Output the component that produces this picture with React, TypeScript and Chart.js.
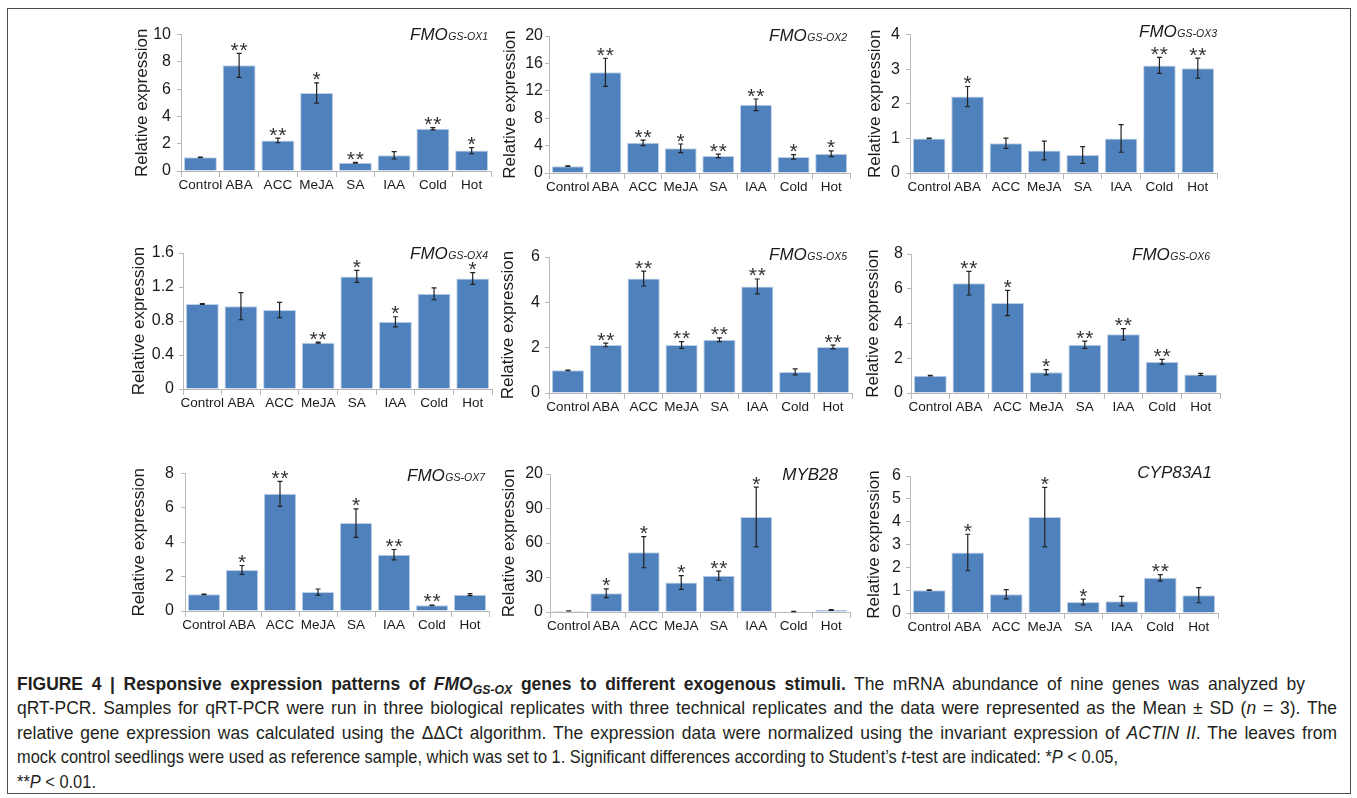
import React, { useEffect, useLayoutEffect, useRef } from "react";
import { Chart, registerables } from "chart.js";
Chart.register(...registerables);

// ---------------- DATA ----------------
const CATEGORIES = ["Control", "ABA", "ACC", "MeJA", "SA", "IAA", "Cold", "Hot"];

const OX1_MEAN = [1.0, 7.75, 2.24, 5.72, 0.6, 1.15, 3.1, 1.5];
const OX1_SD = [0.02, 0.88, 0.17, 0.74, 0.03, 0.27, 0.08, 0.22];
const OX1_SIG = ["", "**", "**", "*", "**", "", "**", "*"];
const OX1_TICKS = [0, 2, 4, 6, 8, 10];

const OX2_MEAN = [1.0, 14.7, 4.4, 3.6, 2.5, 9.95, 2.35, 2.8];
const OX2_SD = [0.05, 2.05, 0.4, 0.63, 0.25, 0.85, 0.33, 0.42];
const OX2_SIG = ["", "**", "**", "*", "**", "**", "*", "*"];
const OX2_TICKS = [0, 4, 8, 12, 16, 20];

const OX3_MEAN = [1.0, 2.21, 0.86, 0.65, 0.52, 1.0, 3.11, 3.03];
const OX3_SD = [0.01, 0.29, 0.15, 0.27, 0.24, 0.4, 0.23, 0.29];
const OX3_SIG = ["", "*", "", "", "", "", "**", "**"];
const OX3_TICKS = [0, 1, 2, 3, 4];

const OX4_MEAN = [1.0, 0.975, 0.93, 0.545, 1.325, 0.79, 1.12, 1.3];
const OX4_SD = [0.005, 0.16, 0.09, 0.006, 0.07, 0.06, 0.07, 0.07];
const OX4_SIG = ["", "", "", "**", "*", "*", "", "*"];
const OX4_TICKS = [0, 0.4, 0.8, 1.2, 1.6];

const OX5_MEAN = [1.0, 2.12, 5.05, 2.12, 2.35, 4.7, 0.93, 2.03];
const OX5_SD = [0.01, 0.08, 0.33, 0.15, 0.08, 0.33, 0.13, 0.08];
const OX5_SIG = ["", "**", "**", "**", "**", "**", "", "**"];
const OX5_TICKS = [0, 2, 4, 6];

const OX6_MEAN = [1.0, 6.32, 5.18, 1.19, 2.78, 3.38, 1.8, 1.07];
const OX6_SD = [0.02, 0.68, 0.73, 0.15, 0.21, 0.33, 0.14, 0.06];
const OX6_SIG = ["", "**", "*", "*", "**", "**", "**", ""];
const OX6_TICKS = [0, 2, 4, 6, 8];

const OX7_MEAN = [0.97, 2.39, 6.82, 1.1, 5.12, 3.28, 0.33, 0.95];
const OX7_SD = [0.02, 0.26, 0.73, 0.18, 0.83, 0.3, 0.02, 0.06];
const OX7_SIG = ["", "*", "**", "", "*", "**", "**", ""];
const OX7_TICKS = [0, 2, 4, 6, 8];

const MYB28_MEAN = [1.0, 16.3, 52.0, 25.7, 31.6, 82.6, 0.5, 1.7];
const MYB28_SD = [0.1, 3.8, 13.5, 6.0, 4.0, 26.0, 0.1, 0.3];
const MYB28_SIG = ["", "*", "*", "*", "**", "*", "", ""];
const MYB28_TICKS = [0, 30, 60, 90, 120];
const MYB28_TICK_LABELS = ["0", "30", "60", "90", "20"];

const CYP_MEAN = [1.0, 2.65, 0.82, 4.2, 0.48, 0.52, 1.54, 0.78];
const CYP_SD = [0.01, 0.8, 0.2, 1.3, 0.13, 0.21, 0.14, 0.33];
const CYP_SIG = ["", "*", "", "*", "*", "", "**", ""];
const CYP_TICKS = [0, 1, 2, 3, 4, 5, 6];

const Y_TITLE = "Relative expression";

// ---------------- STYLE / LAYOUT ----------------
const FONT = '"Liberation Sans", Arial, Helvetica, sans-serif';
const BAR_FILL = "#4f81bd";
const BAR_EDGE = "#c0d1e7";
const AXIS_GRAY = "#b8b8b8";
const TEXT = "#1a1a1a";
const PAD_TOP = 15;
const PAD_RIGHT = 10;
const Y_W = 60;
const X_H = 30;

type Panel = {
  name: string;
  sub: string;
  mean: number[];
  sd: number[];
  sig: string[];
  ticks: number[];
  tickLabels?: string[];
  left: number;
  right: number;
  top: number;
  bottom: number;
  titleRight: number;
  titleBase: number;
  yTitleX: number;
  tickPad: number;
};

const PANELS: Panel[] = [
  { name: "FMO", sub: "GS-OX1", mean: OX1_MEAN, sd: OX1_SD, sig: OX1_SIG, ticks: OX1_TICKS,
    left: 181, right: 491, top: 34, bottom: 171, titleRight: 488, titleBase: 40, yTitleX: 142, tickPad: 6 },
  { name: "FMO", sub: "GS-OX2", mean: OX2_MEAN, sd: OX2_SD, sig: OX2_SIG, ticks: OX2_TICKS,
    left: 549, right: 850, top: 36, bottom: 173, titleRight: 847, titleBase: 41, yTitleX: 510, tickPad: 2 },
  { name: "FMO", sub: "GS-OX3", mean: OX3_MEAN, sd: OX3_SD, sig: OX3_SIG, ticks: OX3_TICKS,
    left: 910, right: 1217, top: 34, bottom: 173, titleRight: 1217, titleBase: 37, yTitleX: 875, tickPad: 6 },
  { name: "FMO", sub: "GS-OX4", mean: OX4_MEAN, sd: OX4_SD, sig: OX4_SIG, ticks: OX4_TICKS,
    left: 183, right: 492, top: 253, bottom: 389, titleRight: 488, titleBase: 259, yTitleX: 139, tickPad: 5 },
  { name: "FMO", sub: "GS-OX5", mean: OX5_MEAN, sd: OX5_SD, sig: OX5_SIG, ticks: OX5_TICKS,
    left: 549, right: 852, top: 257, bottom: 393, titleRight: 847, titleBase: 260, yTitleX: 508, tickPad: 5 },
  { name: "FMO", sub: "GS-OX6", mean: OX6_MEAN, sd: OX6_SD, sig: OX6_SIG, ticks: OX6_TICKS,
    left: 911, right: 1220, top: 254, bottom: 393, titleRight: 1210, titleBase: 260, yTitleX: 873, tickPad: 4 },
  { name: "FMO", sub: "GS-OX7", mean: OX7_MEAN, sd: OX7_SD, sig: OX7_SIG, ticks: OX7_TICKS,
    left: 185, right: 489, top: 472, bottom: 611, titleRight: 485, titleBase: 481, yTitleX: 139, tickPad: 7 },
  { name: "MYB28", sub: "", mean: MYB28_MEAN, sd: MYB28_SD, sig: MYB28_SIG, ticks: MYB28_TICKS, tickLabels: MYB28_TICK_LABELS,
    left: 550, right: 850, top: 474, bottom: 612, titleRight: 838, titleBase: 480, yTitleX: 509, tickPad: 3 },
  { name: "CYP83A1", sub: "", mean: CYP_MEAN, sd: CYP_SD, sig: CYP_SIG, ticks: CYP_TICKS,
    left: 910, right: 1218, top: 476, bottom: 613, titleRight: 1212, titleBase: 478, yTitleX: 874, tickPad: 5 },
];

function BarPanel({ p }: { p: Panel }) {
  const ref = useRef<HTMLCanvasElement>(null);
  const cLeft = p.left - Y_W;
  const cTop = p.top - PAD_TOP;
  const W = p.right - p.left + Y_W + PAD_RIGHT;
  const H = p.bottom - p.top + PAD_TOP + X_H;

  useEffect(() => {
    if (!ref.current) return;
    const overlay = {
      id: "overlay",
      afterDatasetsDraw(chart: any) {
        const ctx = chart.ctx;
        const ys = chart.scales.y;
        const meta = chart.getDatasetMeta(0);
        ctx.save();
        meta.data.forEach((bar: any, i: number) => {
          const v = p.mean[i];
          const e = p.sd[i];
          const x = bar.x;
          const yT = ys.getPixelForValue(v + e);
          const yB = ys.getPixelForValue(Math.max(0, v - e));
          ctx.strokeStyle = "#222";
          ctx.lineWidth = 1.2;
          ctx.beginPath();
          ctx.moveTo(x, yT);
          ctx.lineTo(x, yB);
          ctx.moveTo(x - 2.5, yT);
          ctx.lineTo(x + 2.5, yT);
          ctx.moveTo(x - 2.5, yB);
          ctx.lineTo(x + 2.5, yB);
          ctx.stroke();
          const s = p.sig[i];
          if (s) {
            ctx.fillStyle = "#333";
            ctx.font = `21px ${FONT}`;
            ctx.textAlign = "center";
            ctx.textBaseline = "alphabetic";
            const base = yT + 3.5;
            if (s.length === 2) {
              ctx.fillText("*", x - 4.5, base);
              ctx.fillText("*", x + 4.5, base);
            } else {
              ctx.fillText("*", x, base);
            }
          }
        });
        ctx.restore();
      },
      afterDraw(chart: any) {
        const ctx = chart.ctx;
        ctx.save();
        ctx.fillStyle = TEXT;
        ctx.textBaseline = "alphabetic";
        const base = p.titleBase - cTop;
        let right = p.titleRight - cLeft;
        if (p.sub) {
          ctx.font = `italic 10.5px ${FONT}`;
          const sw = ctx.measureText(p.sub).width;
          ctx.textAlign = "left";
          ctx.fillText(p.sub, right - sw, base);
          right = right - sw - 0.5;
        }
        ctx.font = `italic 17px ${FONT}`;
        ctx.textAlign = "right";
        ctx.fillText(p.name, right, base);
        ctx.restore();
      },
    };

    const chart = new Chart(ref.current, {
      type: "bar",
      data: {
        labels: CATEGORIES,
        datasets: [
          {
            data: p.mean,
            backgroundColor: BAR_FILL,
            borderColor: BAR_EDGE,
            borderWidth: 1,
            barPercentage: 0.85,
            categoryPercentage: 1,
          },
        ],
      },
      options: {
        responsive: false,
        animation: false,
        devicePixelRatio: 1,
        layout: { padding: { left: 0, top: PAD_TOP, right: PAD_RIGHT, bottom: 0 } },
        plugins: { legend: { display: false }, tooltip: { enabled: false }, title: { display: false } },
        scales: {
          x: {
            grid: { display: true, drawOnChartArea: false, drawTicks: true, tickLength: 6, color: AXIS_GRAY, offset: true },
            border: { display: true, color: AXIS_GRAY },
            ticks: {
              color: TEXT,
              font: { family: FONT, size: 13.5 },
              padding: 0,
              autoSkip: false,
              maxRotation: 0,
              minRotation: 0,
            },
            afterFit: (s: any) => {
              s.height = X_H;
            },
          },
          y: {
            min: 0,
            max: p.ticks[p.ticks.length - 1],
            afterBuildTicks: (s: any) => {
              s.ticks = p.ticks.map((v) => ({ value: v }));
            },
            ticks: {
              color: TEXT,
              font: { family: FONT, size: 16 },
              padding: p.tickPad,
              callback: (v: any, i: number) => (p.tickLabels ? p.tickLabels[i] : String(p.ticks[i])),
            },
            grid: { display: true, drawOnChartArea: false, drawTicks: true, tickLength: 4, color: AXIS_GRAY },
            border: { display: true, color: AXIS_GRAY },
            title: {
              display: true,
              text: Y_TITLE,
              color: TEXT,
              font: { family: FONT, size: 17 },
              padding: { top: p.yTitleX - cLeft - 10.2, bottom: 0 },
            },
            afterFit: (s: any) => {
              s.width = Y_W;
            },
          },
        },
      },
      plugins: [overlay],
    } as any);
    return () => chart.destroy();
  }, [p]);

  return (
    <canvas
      ref={ref}
      width={W}
      height={H}
      style={{ position: "absolute", left: cLeft, top: cTop, width: W, height: H, display: "block" }}
    />
  );
}

const LINE_STYLE: any = {
  position: "absolute",
  left: 17,
  display: "inline-block",
  whiteSpace: "nowrap",
  transformOrigin: "0 0",
  fontFamily: FONT,
  fontSize: 18.5,
  lineHeight: "24px",
  color: "#231f20",
};

// target widths of caption lines
const CAPTION_TARGETS = [1288, 1320, 1320, 1101, 101];

function Caption() {
  const r1 = useRef<HTMLDivElement>(null);
  const r2 = useRef<HTMLDivElement>(null);
  const r3 = useRef<HTMLDivElement>(null);
  const r4 = useRef<HTMLDivElement>(null);
  const r5 = useRef<HTMLDivElement>(null);
  useLayoutEffect(() => {
    const els = [r1, r2, r3, r4, r5].map((r) => r.current!);
    els.forEach((el) => {
      el.style.transform = "none";
      el.style.wordSpacing = "0px";
    });
    const k4 = CAPTION_TARGETS[3] / els[3].getBoundingClientRect().width;
    const kc = k4 * 1.065;
    els.forEach((el, i) => {
      const t = CAPTION_TARGETS[i];
      const w = el.getBoundingClientRect().width;
      if (i <= 2) {
        const n = Math.max(1, (el.textContent || "").split(" ").length - 1);
        const extra = (t / kc - w) / n;
        if (extra > 0) {
          el.style.wordSpacing = `${extra}px`;
          el.style.transform = `scaleX(${kc})`;
        } else {
          el.style.transform = `scaleX(${t / w})`;
        }
      } else {
        el.style.transform = `scaleX(${k4})`;
      }
    });
  }, []);
  return (
    <>
      <div ref={r1} style={{ ...LINE_STYLE, top: 672 }}>
        <b>
          FIGURE 4 | Responsive expression patterns of <i>FMO</i>
          <i style={{ fontSize: 13, verticalAlign: "-4px" }}>GS-OX</i> genes to different exogenous stimuli.
        </b>{" "}
        The mRNA abundance of nine genes was analyzed by
      </div>
      <div ref={r2} style={{ ...LINE_STYLE, top: 696 }}>
        qRT-PCR. Samples for qRT-PCR were run in three biological replicates with three technical replicates and the data
        were represented as the Mean ± SD (<i>n</i> = 3). The
      </div>
      <div ref={r3} style={{ ...LINE_STYLE, top: 721 }}>
        relative gene expression was calculated using the ΔΔCt algorithm. The expression data were normalized using the
        invariant expression of <i>ACTIN II</i>. The leaves from
      </div>
      <div ref={r4} style={{ ...LINE_STYLE, top: 745 }}>
        mock control seedlings were used as reference sample, which was set to 1. Significant differences according to
        Student’s <i>t</i>-test are indicated: *<i>P</i> &lt; 0.05,
      </div>
      <div ref={r5} style={{ ...LINE_STYLE, top: 770 }}>
        **<i>P</i> &lt; 0.01.
      </div>
    </>
  );
}

export default function App() {
  return (
    <div
      style={{
        position: "absolute",
        left: 0,
        top: 0,
        width: 1357,
        height: 798,
        background: "#fff",
        overflow: "hidden",
      }}
    >
      <div
        style={{
          position: "absolute",
          left: 7,
          top: 8,
          width: 1344,
          height: 786,
          border: "1px solid #4d4d4d",
          boxSizing: "border-box",
        }}
      />
      {PANELS.map((p, i) => (
        <BarPanel key={i} p={p} />
      ))}
      <Caption />
    </div>
  );
}
